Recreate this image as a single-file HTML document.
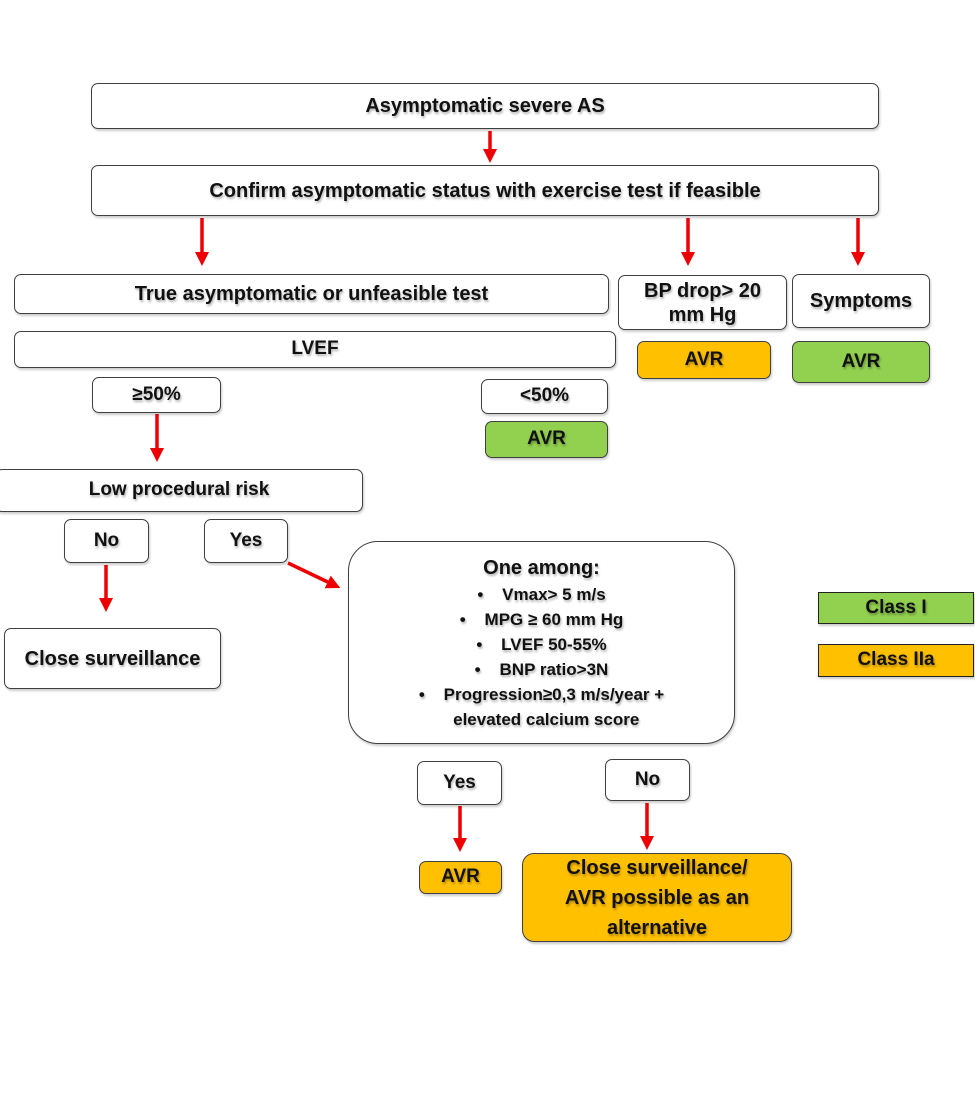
<!DOCTYPE html>
<html><head><meta charset="utf-8"><style>
body{margin:0;width:975px;height:1100px;background:#fff;position:relative;overflow:hidden;font-family:"Liberation Sans",sans-serif;}
.b{position:absolute;box-sizing:border-box;border:1.5px solid #404040;border-radius:7px;background:#fff;display:flex;align-items:center;justify-content:center;text-align:center;font-weight:bold;font-size:19px;color:#111;line-height:1.2;text-shadow:1px 2px 2px rgba(0,0,0,0.3);box-shadow:1px 2px 2px rgba(0,0,0,0.2);}
.g{background:#92d050;}
.o{background:#ffc000;}
svg{position:absolute;left:0;top:0;}
</style></head><body>
<svg width="975" height="1100">
<defs><marker id="a" markerWidth="4" markerHeight="4" refX="2" refY="2" orient="auto" markerUnits="strokeWidth"><path d="M0,0 L4,2 L0,4 z" fill="#ee0000"/></marker></defs>
<g stroke="#ee0000" stroke-width="3.5" marker-end="url(#a)">
<line x1="490" y1="131" x2="490" y2="156"/>
<line x1="202" y1="218" x2="202" y2="259"/>
<line x1="688" y1="218" x2="688" y2="259"/>
<line x1="858" y1="218" x2="858" y2="259"/>
<line x1="157" y1="414" x2="157" y2="455"/>
<line x1="106" y1="565" x2="106" y2="605"/>
<line x1="288" y1="563" x2="334" y2="585"/>
<line x1="460" y1="806" x2="460" y2="845"/>
<line x1="647" y1="803" x2="647" y2="843"/>
</g></svg>
<div class="b" style="left:91px;top:83px;width:788px;height:46px;font-size:20px">Asymptomatic severe AS</div>
<div class="b" style="left:91px;top:165px;width:788px;height:51px;font-size:20px">Confirm asymptomatic status with exercise test if feasible</div>
<div class="b" style="left:14px;top:274px;width:595px;height:40px;font-size:20px">True asymptomatic or unfeasible test</div>
<div class="b" style="left:618px;top:275px;width:169px;height:55px;font-size:20px">BP drop&gt; 20<br>mm Hg</div>
<div class="b" style="left:792px;top:274px;width:138px;height:54px;font-size:20px">Symptoms</div>
<div class="b" style="left:14px;top:331px;width:602px;height:37px">LVEF</div>
<div class="b o" style="left:637px;top:341px;width:134px;height:38px">AVR</div>
<div class="b g" style="left:792px;top:341px;width:138px;height:42px">AVR</div>
<div class="b" style="left:92px;top:377px;width:129px;height:36px">≥50%</div>
<div class="b" style="left:481px;top:379px;width:127px;height:35px">&lt;50%</div>
<div class="b g" style="left:485px;top:421px;width:123px;height:37px">AVR</div>
<div class="b" style="left:-5px;top:469px;width:368px;height:43px">Low procedural risk</div>
<div class="b" style="left:64px;top:519px;width:85px;height:44px">No</div>
<div class="b" style="left:204px;top:519px;width:84px;height:44px">Yes</div>
<div class="b" style="left:4px;top:628px;width:217px;height:61px;font-size:20px">Close surveillance</div>
<div class="b" style="left:348px;top:541px;width:387px;height:203px;border-radius:30px;flex-direction:column;font-size:17px;line-height:25px">
<div style="font-size:20px;line-height:28px">One among:</div>
<div>•&nbsp;&nbsp;&nbsp;&nbsp;Vmax&gt; 5 m/s</div>
<div>•&nbsp;&nbsp;&nbsp;&nbsp;MPG ≥ 60 mm Hg</div>
<div>•&nbsp;&nbsp;&nbsp;&nbsp;LVEF 50-55%</div>
<div>•&nbsp;&nbsp;&nbsp;&nbsp;BNP ratio&gt;3N</div>
<div>•&nbsp;&nbsp;&nbsp;&nbsp;Progression≥0,3 m/s/year +</div>
<div>&nbsp;&nbsp;elevated calcium score</div>
</div>
<div class="b g" style="left:818px;top:592px;width:156px;height:32px;border-radius:0;border-color:#222">Class I</div>
<div class="b o" style="left:818px;top:644px;width:156px;height:33px;border-radius:0;border-color:#222">Class IIa</div>
<div class="b" style="left:417px;top:761px;width:85px;height:44px">Yes</div>
<div class="b" style="left:605px;top:759px;width:85px;height:42px">No</div>
<div class="b o" style="left:419px;top:861px;width:83px;height:33px">AVR</div>
<div class="b o" style="left:522px;top:853px;width:270px;height:89px;border-radius:12px;font-size:20px;line-height:30px">Close surveillance/<br>AVR possible as an<br>alternative</div>
</body></html>
